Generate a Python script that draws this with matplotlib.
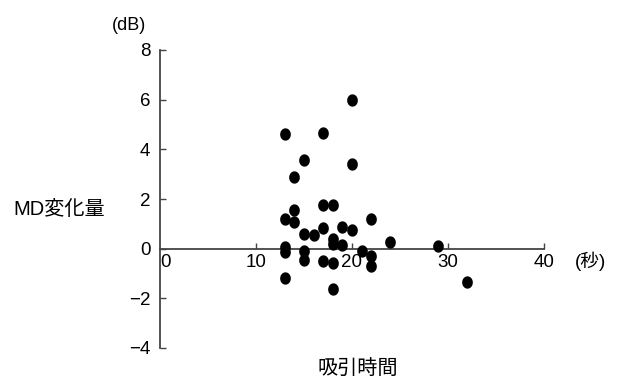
import numpy as np
import matplotlib
matplotlib.use('Agg')
import matplotlib.pyplot as plt
from matplotlib.path import Path

plt.rcParams['font.family'] = ['Liberation Sans', 'Noto Sans CJK JP', 'DejaVu Sans']

# 吸引時間（秒）と MD変化量（dB）
suction_time = [13, 17, 20, 15, 14, 20,
                13, 14, 14, 15, 16, 17, 18, 17, 18, 18, 19, 20, 19,
                13, 13, 22, 24, 21, 15, 15, 17, 18, 13, 18, 22, 22, 29, 32]
md_change = [4.62, 4.66, 5.98, 3.57, 2.9, 3.41,
             1.2, 1.54, 1.07, 0.59, 0.55, 1.74, 1.74, 0.83, 0.38, 0.2, 0.88, 0.75, 0.14,
             0.08, -0.12, 1.2, 0.28, -0.08, -0.1, -0.46, -0.5, -0.58, -1.2, -1.62, -0.3, -0.7, 0.12, -1.34]

xticks = [0, 10, 20, 30, 40]
yticks = [-4, -2, 0, 2, 4, 6, 8]

W, H = 617, 379
fig = plt.figure(figsize=(W / 100, H / 100), dpi=100)
ax = fig.add_axes([160 / W, 1 - 348 / H, (544 - 160) / W, (348 - 50) / H])

# 少し縦長の楕円マーカー
t = np.linspace(0, 2 * np.pi, 40)
ellipse = Path(np.column_stack([np.cos(t), 1.18 * np.sin(t)]))
ax.scatter(suction_time, md_change, marker=ellipse, s=62, color='black', zorder=3, clip_on=False)

ax.set_xlim(0, 40)
ax.set_ylim(-4, 8)

for s in ['top', 'right']:
    ax.spines[s].set_visible(False)
ax.spines['bottom'].set_position(('data', 0))
for s in ['left', 'bottom']:
    ax.spines[s].set_color('#444444')
    ax.spines[s].set_linewidth(1.3)

ax.set_yticks(yticks)
ax.set_yticklabels([str(v).replace('-', '\u2212') for v in yticks])
ax.set_xticks(xticks)
ax.set_xticklabels([str(v) for v in xticks])
ax.tick_params(axis='y', direction='in', length=4, width=1.0, color='#444444', labelsize=13.5, pad=7)
ax.tick_params(axis='x', direction='in', length=4, width=1.0, color='#444444', labelsize=13.5, pad=4)
ax.get_xticklabels()[0].set_horizontalalignment('left')
ax.xaxis.get_major_ticks()[0].tick1line.set_visible(False)

fig.text(129 / W, 1 - 26 / H, '(dB)', ha='center', va='center', fontsize=13)
fig.text(13 / W, 1 - 209 / H, 'MD変化量', ha='left', va='center', fontsize=14.5)
fig.text(358 / W, 1 - 368 / H, '吸引時間', ha='center', va='center', fontsize=14.5)
fig.text(591 / W, 1 - 261 / H, '(秒)', ha='center', va='center', fontsize=13.5)

fig.savefig('out.png', dpi=100)
